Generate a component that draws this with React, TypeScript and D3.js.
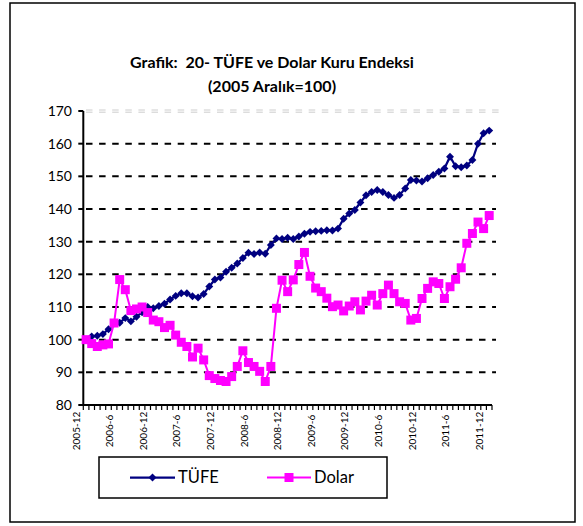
import React from "react";
import * as d3 from "d3";

const categories: string[] = [
  "2005-12",
  "2006-1","2006-2","2006-3","2006-4","2006-5","2006-6","2006-7","2006-8","2006-9","2006-10","2006-11","2006-12",
  "2007-1","2007-2","2007-3","2007-4","2007-5","2007-6","2007-7","2007-8","2007-9","2007-10","2007-11","2007-12",
  "2008-1","2008-2","2008-3","2008-4","2008-5","2008-6","2008-7","2008-8","2008-9","2008-10","2008-11","2008-12",
  "2009-1","2009-2","2009-3","2009-4","2009-5","2009-6","2009-7","2009-8","2009-9","2009-10","2009-11","2009-12",
  "2010-1","2010-2","2010-3","2010-4","2010-5","2010-6","2010-7","2010-8","2010-9","2010-10","2010-11","2010-12",
  "2011-1","2011-2","2011-3","2011-4","2011-5","2011-6","2011-7","2011-8","2011-9","2011-10","2011-11","2011-12",
];

const tufe: number[] = [
  100,
  101, 101.2, 101.7, 103.2, 105, 105.2, 106.6, 105.6, 107, 108.4, 110, 109.6,
  110.3, 111, 112.3, 113.4, 114.2, 114.2, 113.3, 112.9, 114, 116.3, 118.4, 119,
  120.8, 122, 123.3, 125, 126.6, 126.2, 126.7, 126.3, 129, 131, 130.8, 131.2,
  130.8, 131.6, 132.4, 133, 133.2, 133.3, 133.5, 133.4, 134, 137, 138.6, 139.7,
  142, 144.2, 145.2, 145.8, 145.2, 144.3, 143.4, 144.3, 146.3, 148.9, 148.7, 148.4,
  149.4, 150.4, 151.4, 152.4, 156, 153.1, 152.8, 153.3, 155, 160, 163.2, 164,
];

const dolar: number[] = [
  100,
  98.8, 97.9, 98.4, 98.7, 105.1, 118.4, 115.3, 108.9, 109.4, 110, 108.3, 106,
  105.5, 103.7, 104.4, 101.4, 99.2, 97.9, 94.7, 97.4, 93.8, 89, 88.1, 87.5,
  87.2, 88.7, 91.8, 96.6, 93, 91.8, 90.3, 87.2, 91.8, 109.6, 118.2, 114.7,
  118.3, 123, 126.7, 119.4, 115.8, 114.7, 112.7, 110.1, 110.6, 108.8, 110.3, 111.6,
  109.1, 111.8, 113.6, 110.6, 114.1, 116.7, 114.1, 111.6, 111.1, 106, 106.5, 112.6,
  115.7, 117.7, 117.2, 112.6, 116.2, 118.5, 122, 129.5, 132.5, 136, 134, 138,
];

const yTicks: number[] = [80, 90, 100, 110, 120, 130, 140, 150, 160, 170];
const xTickLabels: string[] = [
  "2005-12", "2006-6", "2006-12", "2007-6", "2007-12", "2008-6", "2008-12",
  "2009-6", "2009-12", "2010-6", "2010-12", "2011-6", "2011-12",
];
const seriesNames: string[] = ["TÜFE", "Dolar"];
const titleLines: string[] = ["Grafik:  20- TÜFE ve Dolar Kuru Endeksi", "(2005 Aralık=100)"];

const FONT = "'Century Gothic', Lato, 'Noto Sans', sans-serif";
const NAVY = "#000080";
const PINK = "#FF00FF";

export default function App() {
  const W = 583;
  const H = 526;
  const left = 83.3;
  const right = 492;
  const top = 111;
  const bottom = 405;

  const x = d3.scalePoint<string>().domain(categories).range([left, right]).padding(0.5);
  const step = x.step();
  const y = d3.scaleLinear().domain([80, 170]).range([bottom, top]);

  const line = d3
    .line<number>()
    .x((_, i) => x(categories[i]) as number)
    .y((d) => y(d));

  const diamond = d3.symbol().type(d3.symbolDiamond2).size(40)();
  const square = d3.symbol().type(d3.symbolSquare).size(81)();

  const boundaries = d3.range(categories.length + 1).map((k) => left + k * step);
  const gridEnd = 496;

  return (
    <svg
      width={W}
      height={H}
      style={{ position: "absolute", left: 0, top: 0, background: "#fff" }}
      fontFamily={FONT}
    >
      <rect x={10} y={3} width={565} height={519} fill="#fff" stroke="#000" strokeWidth={1.5} />

      {/* title */}
      <text x={272} y={68} textAnchor="middle" fontSize={16} fontWeight="bold" style={{ whiteSpace: "pre" }}>
        {titleLines[0]}
      </text>
      <text x={272} y={92} textAnchor="middle" fontSize={16} fontWeight="bold">
        {titleLines[1]}
      </text>

      {/* gridlines */}
      {yTicks
        .filter((t) => t > 80 && t < 170)
        .map((t) => (
          <line
            key={"g" + t}
            x1={86}
            x2={gridEnd}
            y1={y(t)}
            y2={y(t)}
            stroke="#000"
            strokeWidth={2}
            strokeDasharray="6.5 6.6"
          />
        ))}
      <line x1={86} x2={gridEnd + 3} y1={y(170) - 1} y2={y(170) - 1} stroke="#c0c0c0" strokeWidth={0.8} strokeDasharray="6.5 6.6" />
      <line x1={86} x2={gridEnd + 3} y1={y(170) + 1.2} y2={y(170) + 1.2} stroke="#c0c0c0" strokeWidth={0.8} strokeDasharray="6.5 6.6" />

      {/* y axis */}
      <line x1={left} x2={left} y1={top} y2={bottom + 1} stroke="#000" strokeWidth={2} />
      {yTicks.map((t) => (
        <g key={"y" + t}>
          <line x1={left - 5} x2={left} y1={y(t)} y2={y(t)} stroke="#000" strokeWidth={2} />
          <text x={72} y={y(t)} dy="0.36em" textAnchor="end" fontSize={14} fill="#000">
            {t}
          </text>
        </g>
      ))}

      {/* x axis */}
      <line x1={left - 1} x2={right} y1={bottom} y2={bottom} stroke="#000" strokeWidth={2} />
      {boundaries.map((bx, k) => (
        <line key={"t" + k} x1={bx} x2={bx} y1={bottom} y2={bottom + 5} stroke="#000" strokeWidth={1.2} />
      ))}
      {xTickLabels.map((lab) => {
        const px = (x(lab) as number) - 10;
        const py = 431;
        return (
          <text
            key={"xl" + lab}
            x={px}
            y={py}
            transform={`rotate(-90 ${px} ${py})`}
            textAnchor="middle"
            dy="0.35em"
            fontSize={10}
            fill="#000"
          >
            {lab}
          </text>
        );
      })}

      {/* TÜFE */}
      <path d={line(tufe) || ""} fill="none" stroke={NAVY} strokeWidth={2.25} />
      {tufe.map((v, i) => (
        <path
          key={"d" + i}
          d={diamond || ""}
          transform={`translate(${x(categories[i])},${y(v)})`}
          fill={NAVY}
        />
      ))}

      {/* Dolar */}
      <path d={line(dolar) || ""} fill="none" stroke={PINK} strokeWidth={2} />
      {dolar.map((v, i) => (
        <path
          key={"s" + i}
          d={square || ""}
          transform={`translate(${x(categories[i])},${y(v)})`}
          fill={PINK}
        />
      ))}

      {/* legend */}
      <rect x={99} y={457} width={288} height={41} fill="#fff" stroke="#000" strokeWidth={1.5} />
      <line x1={130} x2={175} y1={477.5} y2={477.5} stroke={NAVY} strokeWidth={2.25} />
      <path d={diamond || ""} transform="translate(152.5,477.5)" fill={NAVY} />
      <text x={178} y={477.5} dy="0.36em" fontSize={16.5} fill="#000">
        {seriesNames[0]}
      </text>
      <line x1={267} x2={311} y1={477.5} y2={477.5} stroke={PINK} strokeWidth={2} />
      <path d={square || ""} transform="translate(289,477.5)" fill={PINK} />
      <text x={314} y={477.5} dy="0.36em" fontSize={16.5} fill="#000">
        {seriesNames[1]}
      </text>
    </svg>
  );
}
